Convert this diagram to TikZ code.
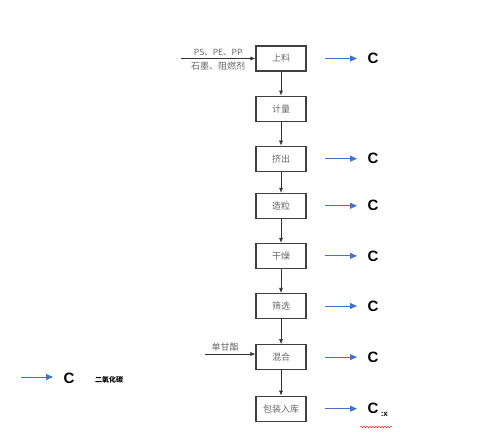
\documentclass[tikz,border=0pt]{standalone}
\usepackage{fontspec}
\setmainfont{Liberation Sans}
\newfontfamily\cjk{Noto Sans CJK SC}
\usetikzlibrary{arrows.meta,positioning,decorations.pathmorphing}
\definecolor{co2blue}{RGB}{68,114,196}
\tikzset{
	stepbox/.style={
		% The shape:
		rectangle,minimum width=50pt,minimum height=25pt,
		% The border:
		draw=black!75,line width=1.1pt,
		% The text:
		font=\cjk\fontsize{9}{9}\selectfont,text=black!60,
	}}
\tikzset{
	flow/.style={-{Latex[length=5pt,width=4pt]},black!80,line width=0.6pt},
	gas/.style={-{Triangle[length=7pt,width=6pt]},co2blue,line width=0.9pt},
	gasname/.style={font=\fontsize{15}{15}\selectfont\bfseries,inner sep=0pt},
	feed/.style={font=\cjk\fontsize{9}{9}\selectfont,text=black!60,inner sep=1pt},
}

\begin{document}
\begin{tikzpicture}[x=1pt,y=-1pt,node distance=24pt]
	\useasboundingbox (0,0) rectangle (481,444);
	% process chain
	\node[stepbox] (feed) at (281,58.5) {上料};
	\node[stepbox,below=of feed] (meter) {计量};
	\node[stepbox,below=of meter] (extr) {挤出};
	\node[stepbox,below=21pt of extr] (gran) {造粒};
	\node[stepbox,below=of gran] (dry) {干燥};
	\node[stepbox,below=of dry] (sieve) {筛选};
	\node[stepbox,below=25pt of sieve] (mix) {混合};
	\node[stepbox,below=25.5pt of mix] (pack) {包装入库};
	\draw[flow] (feed) -- (meter);
	\draw[flow] (meter) -- (extr);
	\draw[flow] (extr) -- (gran);
	\draw[flow] (gran) -- (dry);
	\draw[flow] (dry) -- (sieve);
	\draw[flow] (sieve) -- (mix);
	\draw[flow] (mix) -- (pack);
	% raw materials
	\coordinate (rawin) at (181,58.5);
	\draw[flow] (rawin) -- (feed.west)
		node[feed,midway,above=1pt,font=\cjk\fontsize{8.5}{8.5}\selectfont] {PS、PE、PP}
		node[feed,midway,below=2pt] {石墨、阻燃剂};
	\coordinate (gmsin) at (205,354);
	\draw[flow] (gmsin) -- (gmsin -| mix.west) node[feed,pos=0.4,above=1pt] {单甘酯};
	% carbon emissions
	\foreach \s/\n in {feed/feedc,extr/extrc,gran/granc,dry/dryc,sieve/sievec,mix/mixc,pack/packc}{
		\node[gasname] (\n) at ([xshift=92pt]\s.center) {C};
		\coordinate (\n a) at ([xshift=44pt]\s.center);
		\coordinate (\n b) at ([xshift=76pt]\s.center);
		\draw[gas] (\n a) -- (\n b);
	}
	\node[font=\fontsize{8}{8}\selectfont\bfseries,inner sep=0pt,anchor=west] (packx) at ([xshift=2pt,yshift=-6pt]packc.east) {:x};
	\coordinate (wavya) at (360,427);
	\coordinate (wavyb) at (392,427);
	\draw[red,decorate,decoration={snake,amplitude=0.8pt,segment length=3pt}] (wavya) -- (wavyb);
	% legend
	\node[gasname] (legc) at (69,378) {C};
	\coordinate (lega) at (21,377);
	\coordinate (legb) at (53,377);
	\draw[gas] (lega) -- (legb);
	\node[font=\cjk\fontsize{7}{7}\selectfont\bfseries,inner sep=0pt] (legtxt) at (109,380) {二氧化碳};
\end{tikzpicture}
\end{document}
